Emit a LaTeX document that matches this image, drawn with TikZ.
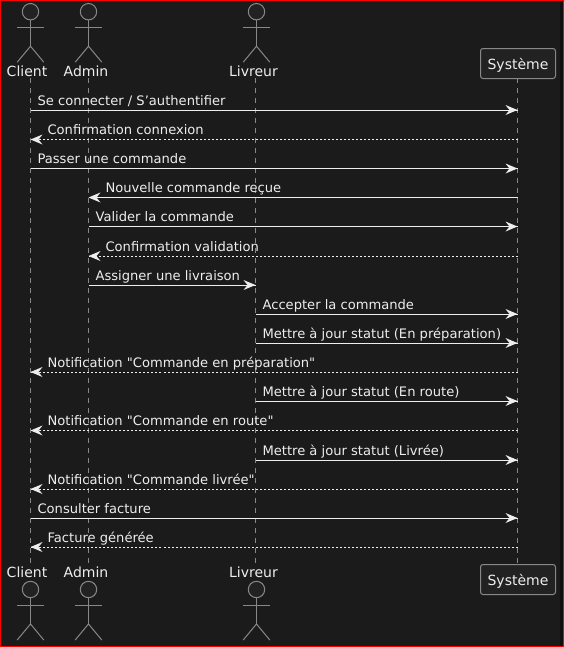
\documentclass[tikz,border=0pt]{standalone}
\usepackage{fontspec}
\setmainfont{DejaVu Sans}[Ligatures=TeXOff]
\newcommand{\pxfont}{\fontsize{9.82pt}{11pt}\selectfont}
\tikzset{x=0.75pt,y=-0.75pt,
  lifeline/.style={draw=lifegray,line width=0.75pt,dash pattern=on 3.75pt off 3.75pt},
  actorline/.style={draw=lifegray,line width=0.75pt},
  actorname/.style={text=textc,inner sep=0pt,anchor=base,font=\fontsize{10.5pt}{12pt}\selectfont},
  sysbox/.style={draw=lifegray,line width=0.75pt,fill=actorfill,rounded corners=1.9pt,minimum width=56.25pt,minimum height=22.5pt,inner sep=0pt,text=textc,font=\fontsize{10.5pt}{12pt}\selectfont},
  msgline/.style={draw=textc,line width=0.75pt},
  retline/.style={draw=textc,line width=0.75pt,dash pattern=on 1.5pt off 1.5pt},
  msgtext/.style={text=textc,inner sep=0pt,font=\pxfont}}
\definecolor{bgc}{HTML}{1B1B1B}
\definecolor{bandc}{HTML}{0F0F0F}
\definecolor{lifegray}{HTML}{888888}
\definecolor{actorfill}{HTML}{222222}
\definecolor{textc}{HTML}{EEEEEE}
\newcommand{\actorfig}[2]{%
  \draw[actorline,fill=actorfill] (#1,#2) circle (8.2);
  \draw[actorline] (#1,#2+8.2) -- (#1,#2+34.5);
  \draw[actorline] (#1-13.3,#2+15.5) -- (#1+13.3,#2+15.5);
  \draw[actorline] (#1-13.3,#2+50.5) -- (#1,#2+34.5) -- (#1+13.3,#2+50.5);}
% \callR{name}{from}{to}{y}{text}
\newcommand{\callR}[5]{%
  \coordinate (#1a) at (#2 |- 0,#4);
  \coordinate (#1b) at (#3 |- 0,#4);
  \draw[msgline] (#1a) -- (#1b);
  \fill[textc] (#1b) -- ++(-12,-5) -- ++(4,5) -- ++(-4,5) -- cycle;
  \node[msgtext,anchor=base west] (#1t) at ([xshift=5.1pt,yshift=3.75pt]#1a) {#5};}
\newcommand{\callL}[5]{%
  \coordinate (#1a) at (#2 |- 0,#4);
  \coordinate (#1b) at (#3 |- 0,#4);
  \draw[msgline] (#1a) -- (#1b);
  \fill[textc] (#1b) -- ++(12,-5) -- ++(-4,5) -- ++(4,5) -- cycle;
  \node[msgtext,anchor=base west] (#1t) at ([xshift=12.6pt,yshift=3.75pt]#1b) {#5};}
\newcommand{\retL}[5]{%
  \coordinate (#1a) at (#2 |- 0,#4);
  \coordinate (#1b) at (#3 |- 0,#4);
  \draw[retline] (#1a) -- (#1b);
  \fill[textc] (#1b) -- ++(12,-5) -- ++(-4,5) -- ++(4,5) -- cycle;
  \node[msgtext,anchor=base west] (#1t) at ([xshift=12.6pt,yshift=3.75pt]#1b) {#5};}
\begin{document}
\begin{tikzpicture}
\useasboundingbox (0,0) rectangle (564,647);
\fill[red] (0,0) rectangle (564,647);
\fill[bandc] (1,1) rectangle (562.8,645.8);
\fill[bgc] (1,1) rectangle (560.4,645.8);
% heads of the lifelines
\coordinate (cl) at (30.5,78);
\coordinate (ad) at (88.5,78);
\coordinate (li) at (255.5,78);
\coordinate (sy) at (517.5,78);
\coordinate (clb) at (30.5,565);
\coordinate (adb) at (88.5,565);
\coordinate (lib) at (255.5,565);
\coordinate (syb) at (517.5,565);
\draw[lifeline] (cl) -- (clb);
\draw[lifeline] (ad) -- (adb);
\draw[lifeline] (li) -- (lib);
\draw[lifeline] (sy) -- (syb);
\actorfig{30.5}{11.7}
\actorfig{88.5}{11.7}
\actorfig{256.5}{11.7}
\actorfig{30.5}{589.5}
\actorfig{88.5}{589.5}
\actorfig{256.5}{589.5}
\node[actorname] (clientT) at (27,76) {Client};
\node[actorname] (adminT) at (86,76) {Admin};
\node[actorname] (livreurT) at (253.5,76) {Livreur};
\node[actorname] (clientB) at (27,577) {Client};
\node[actorname] (adminB) at (86,577) {Admin};
\node[actorname] (livreurB) at (253.5,577) {Livreur};
\node[sysbox,text depth=0pt] (sysT) at (518,63.5) {\raisebox{-0.2pt}{Système}};
\node[sysbox,text depth=0pt] (sysB) at (518,579.5) {\raisebox{-0.2pt}{Système}};
\callR{m1}{cl}{sy}{110}{Se connecter / S’authentifier}
\retL{m2}{sy}{cl}{139.5}{Confirmation connexion}
\callR{m3}{cl}{sy}{168.5}{Passer une commande}
\callL{m4}{sy}{ad}{197.5}{Nouvelle commande reçue}
\callR{m5}{ad}{sy}{226.5}{Valider la commande}
\retL{m6}{sy}{ad}{256}{Confirmation validation}
\callR{m7}{ad}{li}{285}{Assigner une livraison}
\callR{m8}{li}{sy}{314}{Accepter la commande}
\callR{m9}{li}{sy}{343}{Mettre à jour statut (En préparation)}
\retL{m10}{sy}{cl}{372}{Notification "Commande en préparation"}
\callR{m11}{li}{sy}{401}{Mettre à jour statut (En route)}
\retL{m12}{sy}{cl}{430.5}{Notification "Commande en route"}
\callR{m13}{li}{sy}{460}{Mettre à jour statut (Livrée)}
\retL{m14}{sy}{cl}{489}{Notification "Commande livrée"}
\callR{m15}{cl}{sy}{518}{Consulter facture}
\retL{m16}{sy}{cl}{547}{Facture générée}
\end{tikzpicture}
\end{document}
